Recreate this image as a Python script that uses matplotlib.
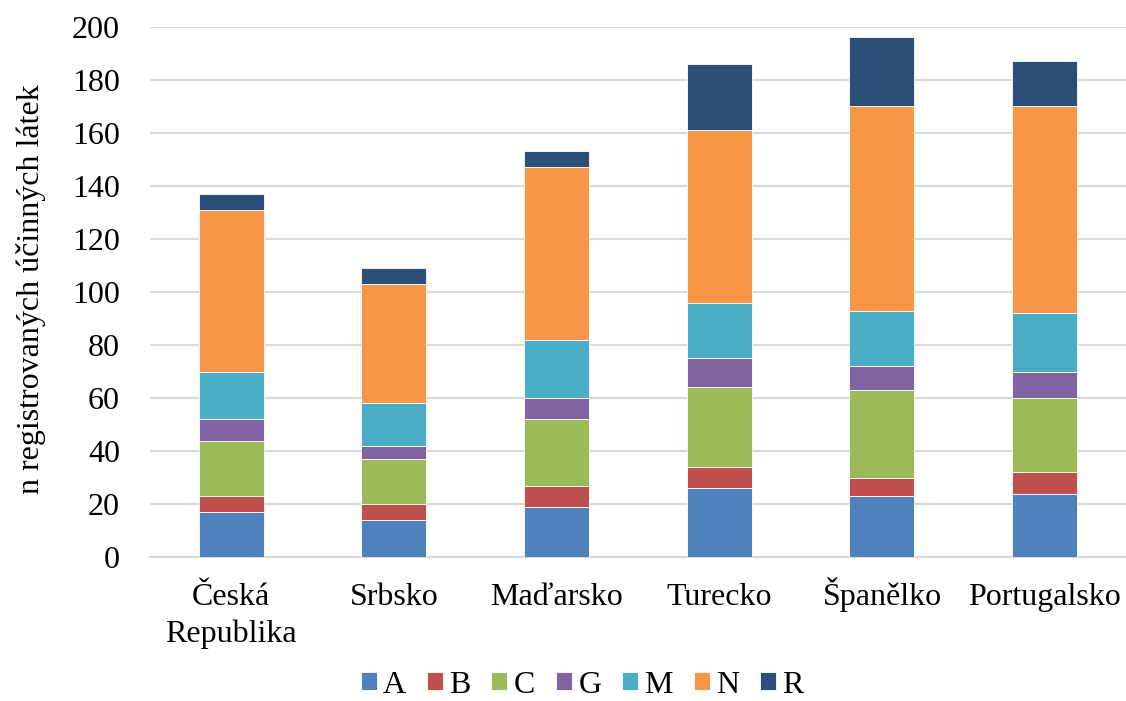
import numpy as np
import matplotlib
matplotlib.use("Agg")
from matplotlib import pyplot as plt
from matplotlib import transforms

plt.rcParams['font.family'] = ['Liberation Serif', 'DejaVu Serif']

countries = ["Česká\nRepublika", "Srbsko", "Maďarsko", "Turecko", "Španělko", "Portugalsko"]
groups = ["A", "B", "C", "G", "M", "N", "R"]

A = [17, 14, 19, 26, 23, 24]
B = [6, 6, 8, 8, 7, 8]
C = [21, 17, 25, 30, 33, 28]
G = [8, 5, 8, 11, 9, 10]
M = [18, 16, 22, 21, 21, 22]
N = [61, 45, 65, 65, 77, 78]
R = [6, 6, 6, 25, 26, 17]

colors = ["#4f81bd", "#c0504d", "#9bbb59", "#8064a2", "#4bacc6", "#f79646", "#2c4f78"]
fs = 23

fig = plt.figure(figsize=(11.26, 7.01), dpi=100)
ax = fig.add_axes([0.133, 0.205, 0.867, 0.757])

x = np.arange(len(countries))
bottom = np.zeros(len(countries))
for name, vals, col in zip(groups, [A, B, C, G, M, N, R], colors):
    ax.bar(x, vals, 0.4, bottom=bottom, color=col, label=name,
           edgecolor="white", linewidth=0.6, zorder=3)
    bottom += np.array(vals)

ax.set_xlim(-0.5, len(countries) - 0.5)
ax.set_ylim(0, 200)
ax.set_yticks(range(0, 201, 20))
ax.grid(axis="y", color="#d9d9d9", linewidth=1.5, zorder=0)
for s in ["top", "right", "left"]:
    ax.spines[s].set_visible(False)
ax.spines["bottom"].set_color("#d9d9d9")
ax.spines["bottom"].set_linewidth(1.5)
ax.tick_params(axis="both", length=0, labelsize=fs)
ax.tick_params(axis="y", pad=21.5)
ax.set_xticks(x)
ax.set_xticklabels([])

# category labels line by line so accents (Č, Š) don't shift the baseline
for xi, name in zip(x, countries):
    for i, line in enumerate(name.split("\n")):
        tr = transforms.offset_copy(ax.get_xaxis_transform(), fig=fig,
                                    x=0, y=-48 - 37 * i, units="dots")
        ax.text(xi, 0, line, transform=tr, ha="center", va="baseline", fontsize=fs)

ax.set_ylabel("n registrovaných účinných látek", fontsize=fs)
ax.yaxis.set_label_coords(-0.106, 0.505)

fig.legend(loc="lower center", bbox_to_anchor=(0.517, -0.03), ncol=7, frameon=False,
           fontsize=fs, handlelength=0.5, handleheight=0.5, handletextpad=0.2,
           columnspacing=0.65, borderpad=0.2)

fig.savefig("out.png", dpi=100)
